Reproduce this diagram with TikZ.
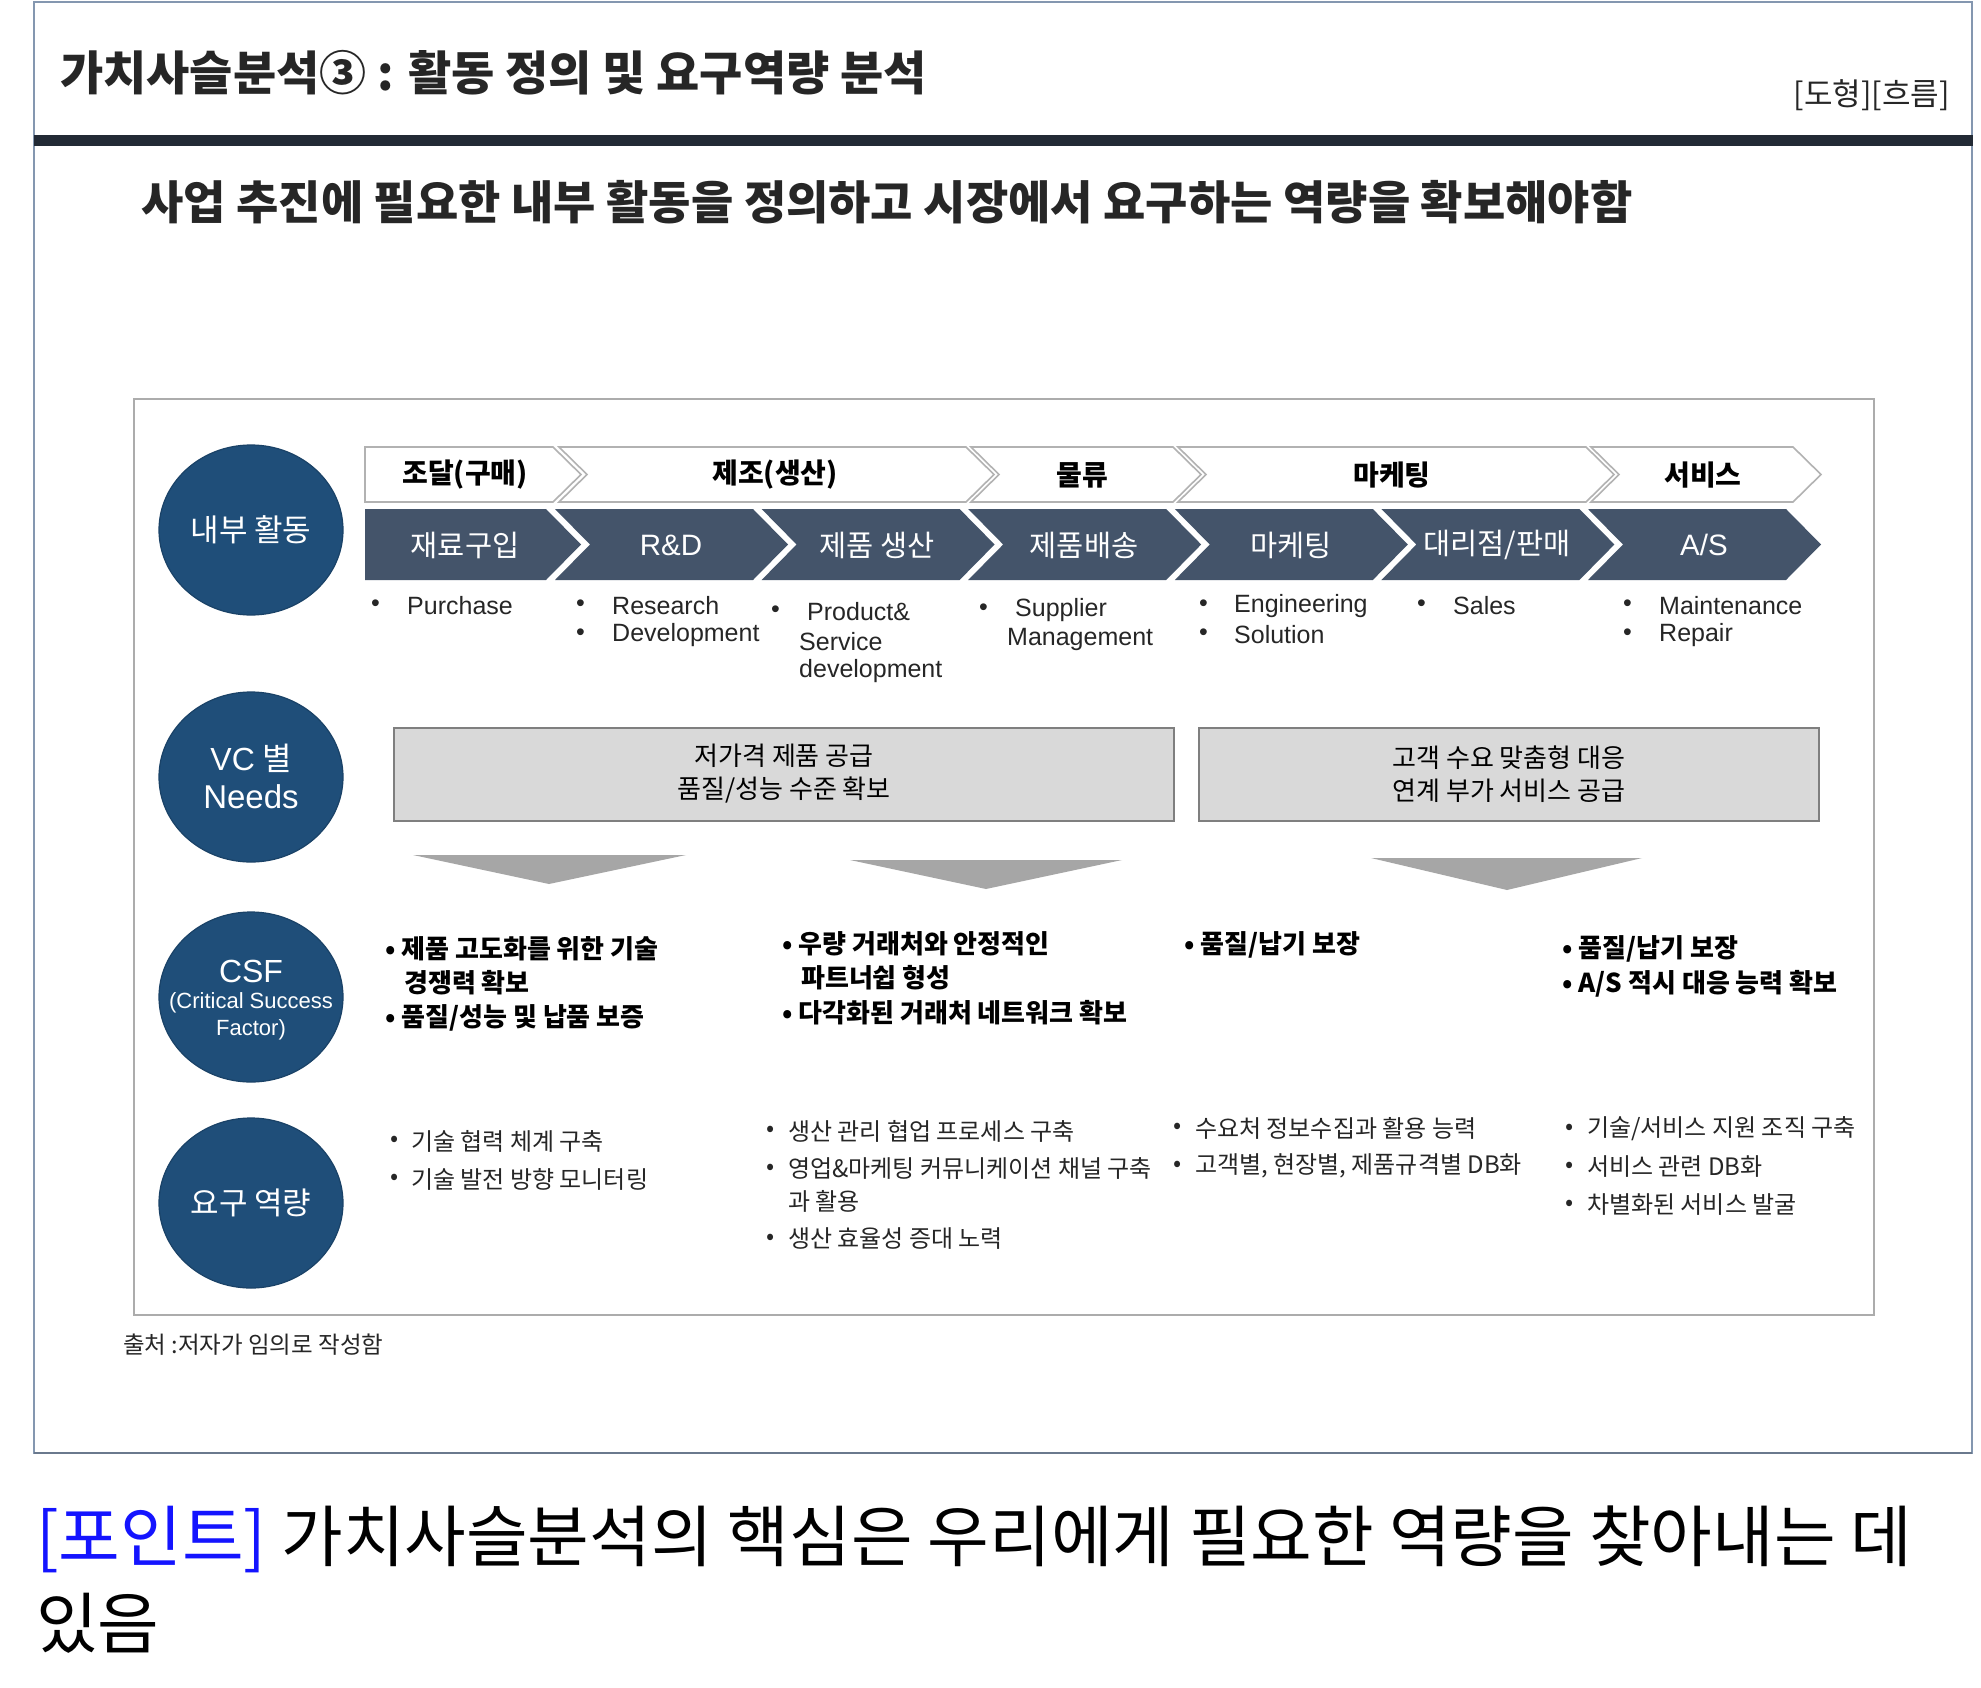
\documentclass[tikz,border=0pt]{standalone}
\usepackage{fontspec}
\setmainfont{Noto Sans CJK KR}
\newfontfamily\lat{Liberation Sans}
\usetikzlibrary{shapes.geometric}
\definecolor{circ}{HTML}{1F4E79}
\definecolor{chev}{HTML}{44546A}
\definecolor{bar}{HTML}{222A35}
\definecolor{framec}{HTML}{8497B0}
\definecolor{boxf}{HTML}{D9D9D9}
\definecolor{boxd}{HTML}{7F7F7F}
\definecolor{tri}{HTML}{A6A6A6}
\definecolor{ttl}{HTML}{262626}
\definecolor{ptblue}{HTML}{1414FF}
\newcommand{\mkdchev}[1]{\fill[chev] (#1,509) -- ++(198,0) -- ++(35,35.5) -- ++(-35,35.5) -- ++(-198,0) -- ++(35,-35.5) -- cycle;}
\newcommand{\mkwchev}[2]{\draw[wline] (#1,447) -- (#2,447) -- ++(28,27.5) -- ++(-28,27.5) -- (#1,502) -- ++(28,-27.5) -- cycle;}
\begin{document}
\begin{tikzpicture}[x=1pt,y=-1pt,
  wline/.style={draw=gray!60, line width=1.6, fill=white, line join=miter},
  circnode/.style={ellipse, fill=circ, draw=circ!85!black, line width=1.2, minimum width=184pt, minimum height=170pt, inner sep=0},
  clab/.style={text=white, inner sep=0},
  toplab/.style={font=\fontsize{28}{30}\selectfont\bfseries, text=black, inner sep=0},
  botlab/.style={font=\fontsize{29.5}{32}\selectfont, text=white, inner sep=0},
  desc/.style={font=\lat\fontsize{25}{28}\selectfont, text=ttl, anchor=west, inner sep=0},
  needbox/.style={fill=boxf, draw=boxd, line width=2},
  needtxt/.style={font=\fontsize{26}{33}\selectfont, align=center, inner sep=0},
  csf/.style={font=\fontsize{26}{28}\selectfont\bfseries, anchor=west, inner sep=0},
  req/.style={font=\fontsize{24}{26}\selectfont, anchor=west, inner sep=0, text=ttl}]
\useasboundingbox (0,0) rectangle (1981,1688);
\fill[white] (0,0) rectangle (1981,1688);
% outer frame and header
\draw[framec, line width=1.5] (34,2) rectangle (1972,1453);
\draw[framec!80!black, line width=2.5] (34,1453) -- (1972,1453);
\fill[bar] (34,135) rectangle (1973,146);
\node[anchor=west, inner sep=0, text=ttl, font=\fontsize{47}{52}\selectfont\bfseries] (title) at (60,73) {가치사슬분석③ : 활동 정의 및 요구역량 분석};
\node[anchor=east, inner sep=0, text=ttl, font=\fontsize{31}{34}\selectfont] (tag) at (1950,95) {[도형][흐름]};
\node[anchor=west, inner sep=0, text=ttl, font=\fontsize{46}{50}\selectfont\bfseries] (sub) at (141,202) {사업 추진에 필요한 내부 활동을 정의하고 시장에서 요구하는 역량을 확보해야함};
% inner frame
\draw[gray!65, line width=2] (134,399) rectangle (1874,1315);
% circles
\node[circnode] (c1) at (251,530) {};
\node[circnode] (c2) at (251,777) {};
\node[circnode] (c3) at (251,997) {};
\node[circnode] (c4) at (251,1203) {};
\node[clab, font=\fontsize{31}{34}\selectfont] (c1t) at (c1) {내부 활동};
\node[clab, font=\fontsize{32}{34}\selectfont] (c2t) at (251,758) {{\lat VC} 별};
\node[clab, font=\lat\fontsize{33}{36}\selectfont] (c2u) at (251,797) {Needs};
\node[clab, font=\lat\fontsize{32}{34}\selectfont] (c3t) at (251,971) {CSF};
\node[clab, font=\lat\fontsize{22}{24}\selectfont] (c3u) at (251,1003) {(Critical Success};
\node[clab, font=\lat\fontsize{22}{24}\selectfont] (c3v) at (251,1030) {Factor)};
\node[clab, font=\fontsize{31}{34}\selectfont] (c4t) at (c4) {요구 역량};
% top row chevrons
\draw[wline] (365,447) -- (553,447) -- (581,474.5) -- (553,502) -- (365,502) -- cycle;
\mkwchev{559}{966}
\mkwchev{971}{1173}
\mkwchev{1178}{1586}
\mkwchev{1591}{1793}
\node[toplab] (t1) at (465,475) {조달(구매)};
\node[toplab] (t2) at (775,475) {제조(생산)};
\node[toplab] (t3) at (1082,475) {물류};
\node[toplab] (t4) at (1392,475) {마케팅};
\node[toplab] (t5) at (1703,475) {서비스};
% bottom row chevrons
\fill[chev] (365,509) -- (546,509) -- (581,544.5) -- (546,580) -- (365,580) -- cycle;
\mkdchev{555}
\mkdchev{761.6}
\mkdchev{968.2}
\mkdchev{1174.8}
\mkdchev{1381.4}
\mkdchev{1588}
\node[botlab] (b1) at (465,545) {재료구입};
\node[botlab] (b2) at (671,545) {\lat R\&D};
\node[botlab] (b3) at (877,545) {제품 생산};
\node[botlab] (b4) at (1084,545) {제품배송};
\node[botlab] (b5) at (1291,545) {마케팅};
\node[botlab] (b6) at (1497,545) {대리점/판매};
\node[botlab] (b7) at (1704,545) {\lat A/S};
% descriptions
\node[desc] (d1b) at (371,606) {•};
\node[desc] (d1) at (407,606) {Purchase};
\node[desc] (d2b) at (576,606) {•};
\node[desc] (d2) at (612,606) {Research};
\node[desc] (d2cb) at (576,635) {•};
\node[desc] (d2c) at (612,635) {Development};
\node[desc] (d3b) at (771,612) {•};
\node[desc] (d3) at (807,612) {Product\&};
\node[desc] (d3c) at (799,642) {Service};
\node[desc] (d3d) at (799,671) {development};
\node[desc] (d4b) at (979,610) {•};
\node[desc] (d4) at (1015,610) {Supplier};
\node[desc] (d4c) at (1007,639) {Management};
\node[desc] (d5b) at (1199,606) {•};
\node[desc] (d5) at (1234,606) {Engineering};
\node[desc] (d5cb) at (1199,635) {•};
\node[desc] (d5c) at (1234,635) {Solution};
\node[desc] (d6b) at (1417,606) {•};
\node[desc] (d6) at (1453,606) {Sales};
\node[desc] (d7b) at (1623,606) {•};
\node[desc] (d7) at (1659,606) {Maintenance};
\node[desc] (d7cb) at (1623,635) {•};
\node[desc] (d7c) at (1659,635) {Repair};
% needs boxes
\draw[needbox] (394,728) rectangle (1174,821);
\draw[needbox] (1199,728) rectangle (1819,821);
\node[needtxt] (n1) at (784,774) {저가격 제품 공급\\품질/성능 수준 확보};
\node[needtxt] (n2) at (1509,774) {고객 수요 맞춤형 대응\\연계 부가 서비스 공급};
% triangles
\fill[tri] (413,855) -- (686,855) -- (549,884) -- cycle;
\fill[tri] (850,860) -- (1122,860) -- (986,889) -- cycle;
\fill[tri] (1371,858) -- (1642,858) -- (1507,890) -- cycle;
% CSF texts
\node[csf] (s1) at (385,949) {• 제품 고도화를 위한 기술};
\node[csf] (s1b) at (404,983) {경쟁력 확보};
\node[csf] (s1c) at (385,1018) {• 품질/성능 및 납품 보증};
\node[csf] (s2) at (782,944) {• 우량 거래처와 안정적인};
\node[csf] (s2b) at (801,978) {파트너쉽 형성};
\node[csf] (s2c) at (782,1013) {• 다각화된 거래처 네트워크 확보};
\node[csf] (s3) at (1184,945) {• 품질/납기 보장};
\node[csf] (s4) at (1562,949) {• 품질/납기 보장};
\node[csf] (s4b) at (1562,984) {• A/S 적시 대응 능력 확보};
% required capabilities
\node[req] (r1x) at (390,1141) {•};
\node[req] (r1) at (411,1141) {기술 협력 체계 구축};
\node[req] (r1bx) at (390,1179) {•};
\node[req] (r1b) at (411,1179) {기술 발전 방향 모니터링};
\node[req] (r2x) at (766,1131) {•};
\node[req] (r2) at (788,1131) {생산 관리 협업 프로세스 구축};
\node[req] (r2bx) at (766,1169) {•};
\node[req] (r2b) at (788,1169) {영업\&마케팅 커뮤니케이션 채널 구축};
\node[req] (r2c) at (788,1201) {과 활용};
\node[req] (r2dx) at (766,1239) {•};
\node[req] (r2d) at (788,1239) {생산 효율성 증대 노력};
\node[req] (r3x) at (1173,1128) {•};
\node[req] (r3) at (1195,1128) {수요처 정보수집과 활용 능력};
\node[req] (r3bx) at (1173,1166) {•};
\node[req] (r3b) at (1195,1166) {고객별, 현장별, 제품규격별 DB화};
\node[req] (r4x) at (1565,1129) {•};
\node[req] (r4) at (1587,1129) {기술/서비스 지원 조직 구축};
\node[req] (r4bx) at (1565,1167) {•};
\node[req] (r4b) at (1587,1167) {서비스 관련 DB화};
\node[req] (r4cx) at (1565,1205) {•};
\node[req] (r4c) at (1587,1205) {차별화된 서비스 발굴};
% source
\node[anchor=west, inner sep=0, text=ttl, font=\fontsize{23.5}{26}\selectfont] (src) at (123,1345) {출처 :저자가 임의로 작성함};
% point text
\node[anchor=west, inner sep=0, font=\fontsize{67}{74}\selectfont] (pt1) at (36,1539) {\textcolor{ptblue}{[포인트]} 가치사슬분석의 핵심은 우리에게 필요한 역량을 찾아내는 데};
\node[anchor=west, inner sep=0, font=\fontsize{67}{74}\selectfont] (pt2) at (36,1623) {있음};
\end{tikzpicture}
\end{document}
